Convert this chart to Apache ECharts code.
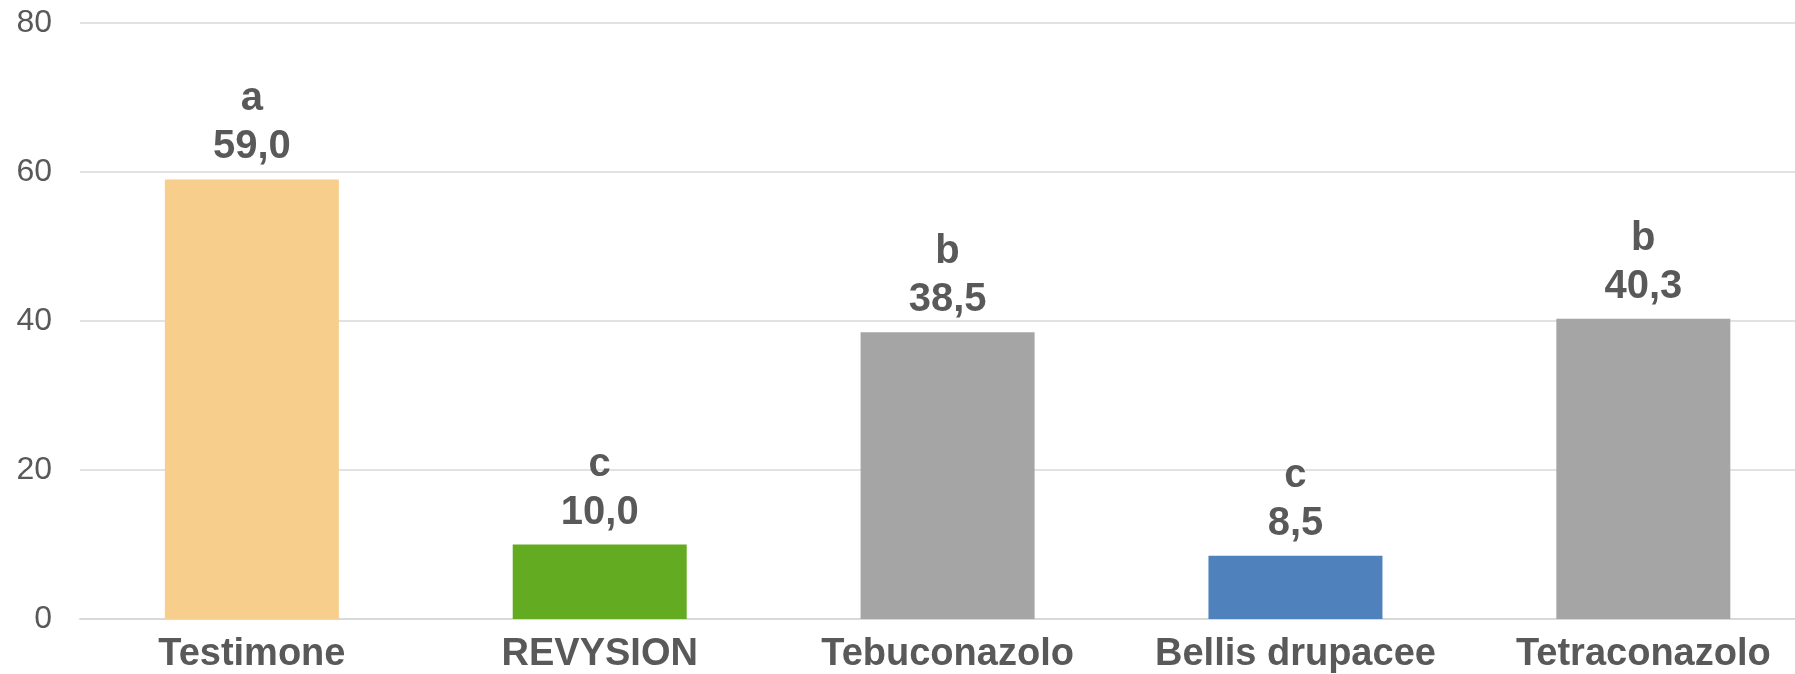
<!DOCTYPE html>
<html>
<head>
<meta charset="utf-8">
<script src="https://cdn.jsdelivr.net/npm/echarts@6/dist/echarts.min.js"></script>
<style>
  html, body { margin: 0; padding: 0; background: #fff; }
  #chart { width: 1795px; height: 674px; }
</style>
</head>
<body>
<div id="chart"></div>
<script>
// dati del grafico
var categories = ['Testimone', 'REVYSION', 'Tebuconazolo', 'Bellis drupacee', 'Tetraconazolo'];
var values = [59.0, 10.0, 38.5, 8.5, 40.3];
var letters = ['a', 'c', 'b', 'c', 'b'];
var barColors = ['#F8CE8D', '#63AB21', '#A5A5A5', '#4F81BD', '#A5A5A5'];
var yTicks = [0, 20, 40, 60, 80];

var chart = echarts.init(document.getElementById('chart'));

// asse x numerico: l'ultima categoria viene tagliata a destra come nell'originale
var catIdx = categories.map(function (c, i) { return i; });

var option = {
  animation: false,
  textStyle: { fontFamily: 'Liberation Sans, Arial, sans-serif', color: '#595959' },
  grid: { left: 80, right: 0, top: 23, bottom: 52, containLabel: false },
  xAxis: {
    type: 'value',
    min: -0.494,
    max: 4.436,
    axisLine: { show: true, onZero: false, lineStyle: { color: '#D9D9D9', width: 2 } },
    axisTick: { show: false },
    splitLine: { show: false },
    axisLabel: {
      customValues: catIdx,
      margin: 17,
      color: '#595959',
      fontWeight: 'bold',
      fontSize: 38,
      formatter: function (v) { return categories[Math.round(v)] || ''; }
    }
  },
  yAxis: {
    type: 'value',
    min: yTicks[0],
    max: yTicks[yTicks.length - 1],
    interval: 20,
    axisLine: { show: false },
    axisTick: { show: false },
    splitLine: { lineStyle: { color: '#D9D9D9', width: 1.5 } },
    axisLabel: { color: '#595959', fontSize: 32, margin: 28 }
  },
  series: [{
    type: 'bar',
    barWidth: 174,
    data: values.map(function (v, i) {
      return { value: [catIdx[i], v], itemStyle: { color: barColors[i] } };
    }),
    label: {
      show: true,
      position: 'top',
      distance: 8,
      color: '#595959',
      fontWeight: 'bold',
      fontSize: 40,
      lineHeight: 48,
      formatter: function (p) {
        return letters[p.dataIndex] + '\n' + p.value[1].toFixed(1).replace('.', ',');
      }
    }
  }]
};

chart.setOption(option);
</script>
</body>
</html>
